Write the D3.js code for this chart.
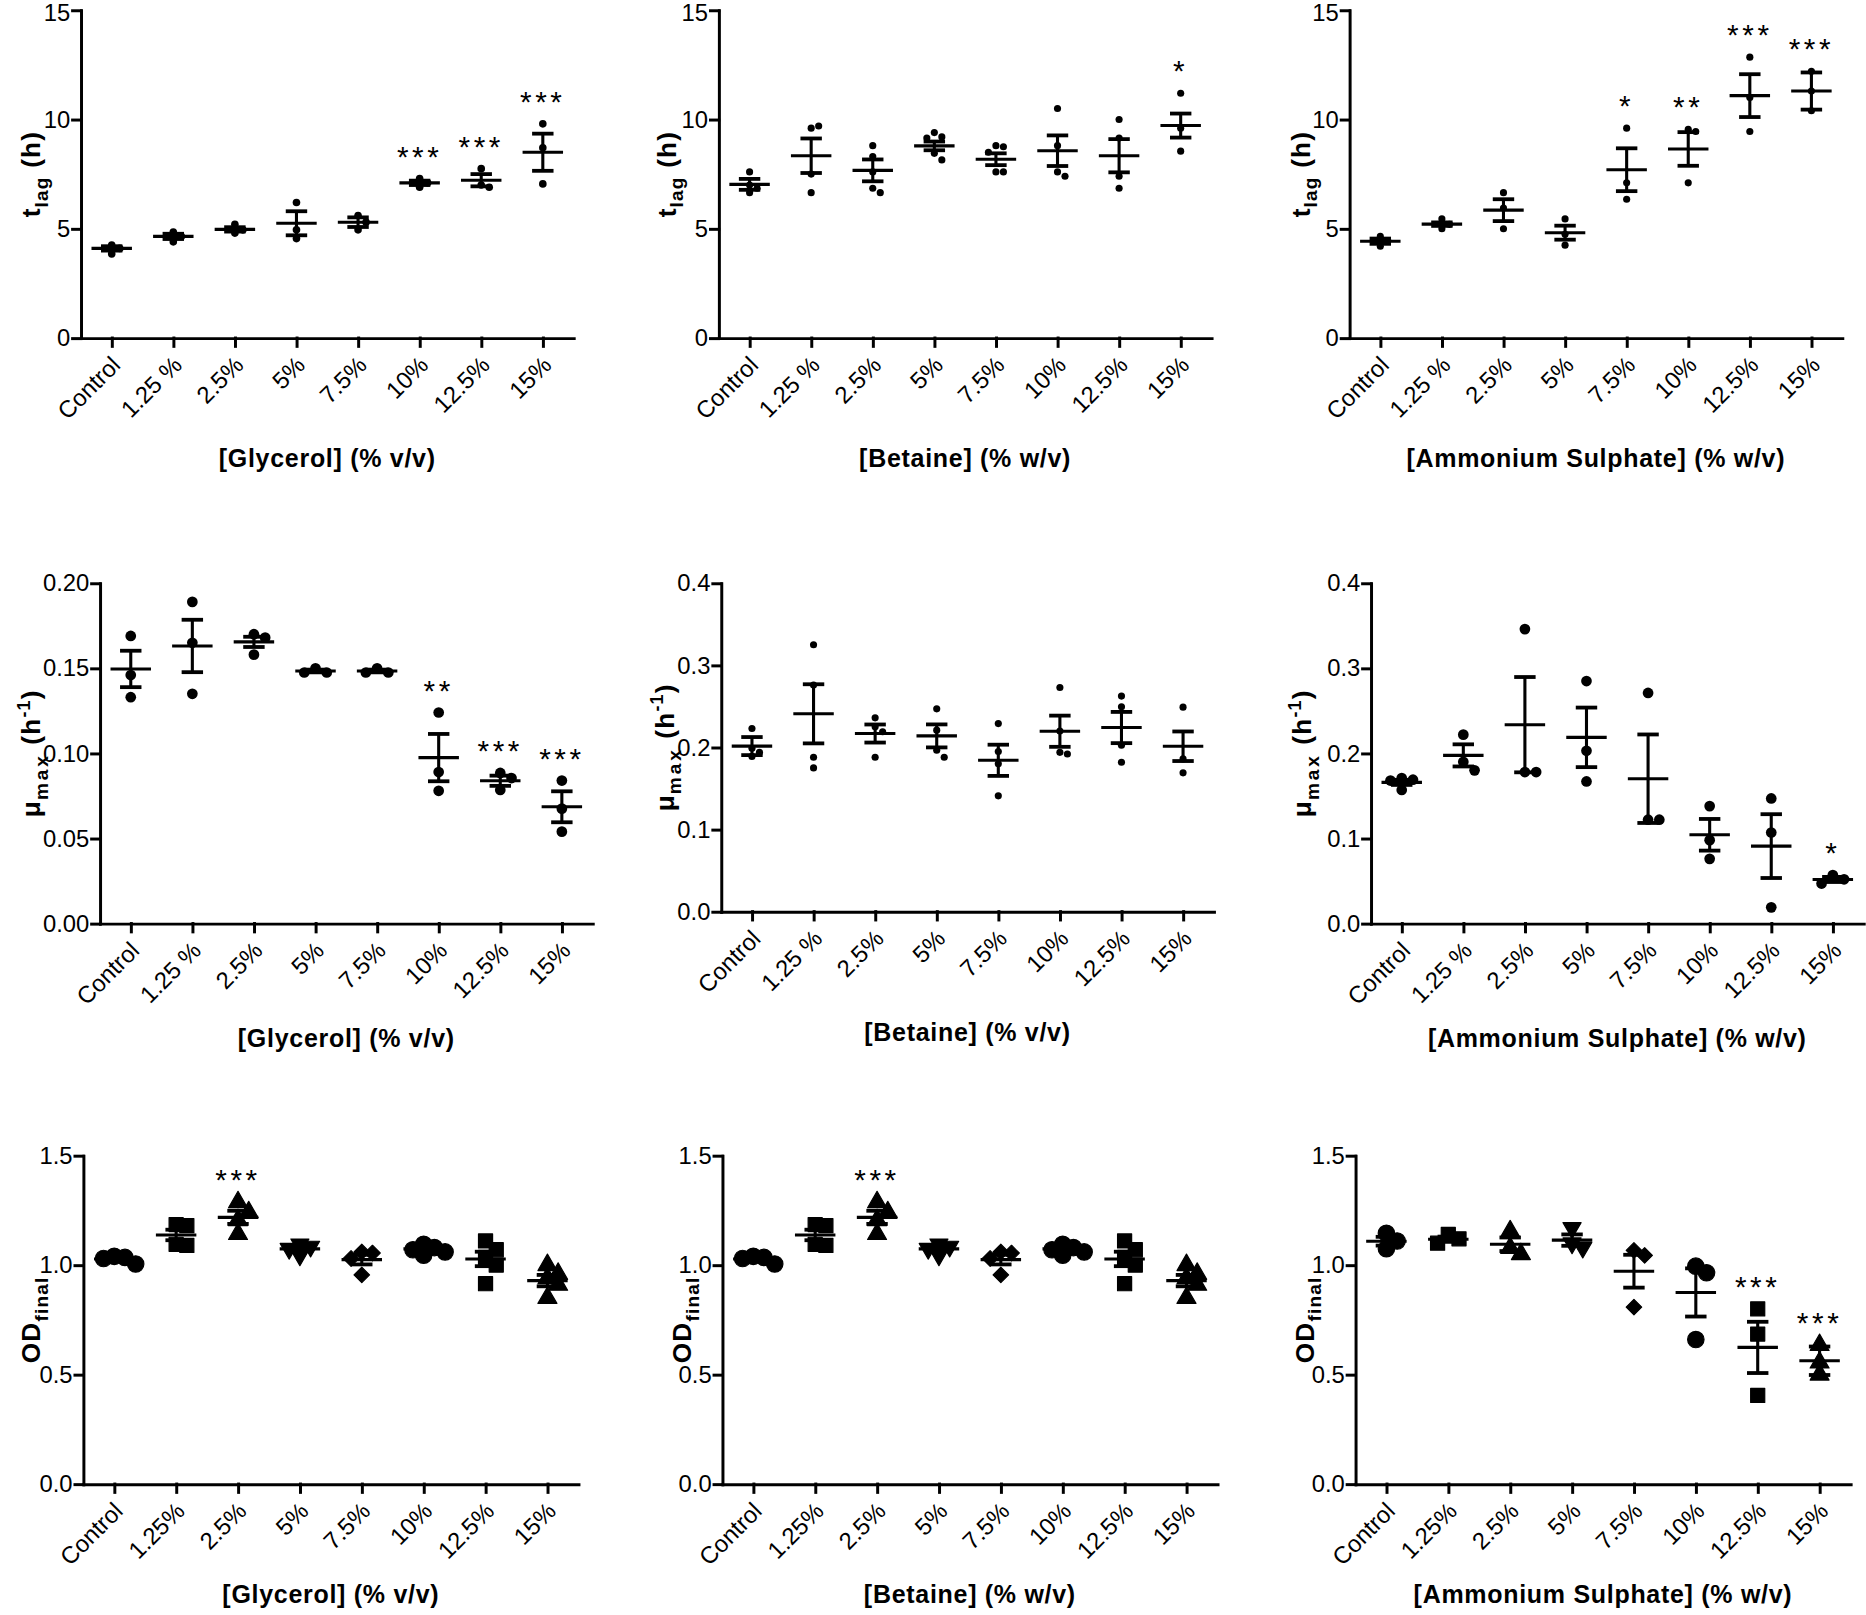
<!DOCTYPE html>
<html>
<head>
<meta charset="utf-8">
<script src="https://cdn.jsdelivr.net/npm/d3@7"></script>
<style>
body { margin: 0; background: #fff; }
svg { display: block; background: #fff; }
</style>
</head>
<body>
<div id="vis"></div>
<script>
var W = 1866, H = 1615; // page size, drawing done in a 1568x1357 box

// categories (x tick labels)
var catsSpaced = ["Control", "1.25 %", "2.5%", "5%", "7.5%", "10%", "12.5%", "15%"];
var catsOD = ["Control", "1.25%", "2.5%", "5%", "7.5%", "10%", "12.5%", "15%"];

// y tick values
var tlagTicks = [0, 5, 10, 15];
var muGlyTicks = [0, 0.05, 0.10, 0.15, 0.20];
var muTicks = [0, 0.1, 0.2, 0.3, 0.4];
var odTicks = [0, 0.5, 1.0, 1.5];

// axis titles
var xTitles = ["[Glycerol] (% v/v)", "[Betaine] (% w/v)", "[Ammonium Sulphate] (% w/v)",
               "[Glycerol] (% v/v)", "[Betaine] (% v/v)", "[Ammonium Sulphate] (% w/v)",
               "[Glycerol] (% v/v)", "[Betaine] (% w/v)", "[Ammonium Sulphate] (% w/v)"];

// t lag, glycerol
var tlagGlyPoints = [[4.25, 4.1, 3.85], [4.85, 4.65, 4.4], [5.2, 4.95, 4.8], [6.2, 4.95, 4.55],
                     [5.6, 5.3, 4.95], [7.3, 7.1, 6.9], [7.75, 7.0, 6.9], [9.8, 8.7, 7.05]];
var tlagGlyMean = [4.1, 4.65, 4.97, 5.25, 5.3, 7.1, 7.22, 8.5];
var tlagGlySem = [0.1, 0.12, 0.1, 0.55, 0.22, 0.1, 0.28, 0.85];
var tlagGlyStars = ["", "", "", "", "", "***", "***", "***"];

// t lag, betaine
var tlagBetPoints = [[7.6, 7.0, 6.85, 6.65], [9.6, 9.7, 7.5, 6.65], [8.8, 8.3, 7.6, 6.85, 6.65],
                     [9.4, 9.2, 9.15, 8.45, 8.15], [8.8, 8.75, 8.5, 7.6, 7.6], [10.5, 8.8, 7.6, 7.4],
                     [10.0, 9.15, 7.4, 6.85], [11.2, 9.6, 8.55]];
var tlagBetMean = [7.03, 8.34, 7.67, 8.79, 8.18, 8.57, 8.34, 9.72];
var tlagBetSem = [0.25, 0.79, 0.5, 0.2, 0.27, 0.7, 0.76, 0.55];
var tlagBetStars = ["", "", "", "", "", "", "", "*"];

// t lag, ammonium sulphate
var tlagAmmPoints = [[4.65, 4.45, 4.2], [5.45, 5.2, 5.0], [6.65, 5.95, 5.0], [5.45, 4.75, 4.25],
                     [9.6, 7.1, 6.35], [9.55, 9.45, 7.1], [12.85, 11.0, 9.45], [12.2, 11.3, 10.4]];
var tlagAmmMean = [4.43, 5.21, 5.85, 4.82, 7.7, 8.65, 11.09, 11.3];
var tlagAmmSem = [0.12, 0.08, 0.5, 0.32, 0.98, 0.77, 0.98, 0.85];
var tlagAmmStars = ["", "", "", "", "*", "**", "***", "***"];

// mu max, glycerol
var muGlyPoints = [[0.169, 0.146, 0.133], [0.189, 0.165, 0.135], [0.170, 0.168, 0.158], [0.150, 0.1475, 0.1475],
                   [0.150, 0.1475, 0.1475], [0.124, 0.089, 0.078], [0.0885, 0.0855, 0.0785], [0.084, 0.0675, 0.054]];
var muGlyMean = [0.1496, 0.1631, 0.1655, 0.1484, 0.1484, 0.0975, 0.0839, 0.0686];
var muGlySem = [0.0107, 0.0154, 0.003, 0.0008, 0.0008, 0.0139, 0.003, 0.0091];
var muGlyStars = ["", "", "", "", "", "**", "***", "***"];

// mu max, betaine
var muBetPoints = [[0.223, 0.199, 0.194, 0.189], [0.325, 0.276, 0.188, 0.175], [0.236, 0.225, 0.219, 0.188],
                   [0.247, 0.221, 0.1965, 0.188], [0.229, 0.195, 0.18, 0.141], [0.273, 0.22, 0.194, 0.192],
                   [0.2625, 0.2494, 0.2026, 0.1819], [0.249, 0.186, 0.169]];
var muBetMean = [0.2016, 0.2409, 0.2169, 0.214, 0.1843, 0.2197, 0.2242, 0.2014];
var muBetSem = [0.011, 0.036, 0.011, 0.014, 0.019, 0.019, 0.019, 0.018];
var muBetStars = ["", "", "", "", "", "", "", ""];

// mu max, ammonium sulphate
var muAmmPoints = [[0.171, 0.169, 0.168, 0.157], [0.222, 0.19, 0.18], [0.346, 0.178, 0.178], [0.285, 0.203, 0.167],
                   [0.271, 0.122, 0.122], [0.138, 0.098, 0.076], [0.147, 0.107, 0.019], [0.057, 0.052, 0.047]];
var muAmmMean = [0.1659, 0.1976, 0.2337, 0.2188, 0.1702, 0.1043, 0.091, 0.0518];
var muAmmSem = [0.003, 0.013, 0.056, 0.035, 0.052, 0.0186, 0.0375, 0.003];
var muAmmStars = ["", "", "", "", "", "", "", "*"];

// OD final, glycerol
var odGlyPoints = [[1.04, 1.035, 1.03, 1.005], [1.185, 1.18, 1.095, 1.09], [1.287, 1.241, 1.205, 1.142],
                   [1.095, 1.085, 1.075, 1.045], [1.06, 1.055, 1.03, 0.955], [1.095, 1.08, 1.07, 1.06, 1.045],
                   [1.11, 1.07, 1.035, 1.0, 0.915], [1.0, 0.96, 0.94, 0.91, 0.85]];
var odGlyMean = [1.028, 1.1375, 1.218, 1.074, 1.025, 1.074, 1.028, 0.929];
var odGlySem = [0.008, 0.024, 0.03, 0.011, 0.022, 0.01, 0.033, 0.026];
var odGlyStars = ["", "", "***", "", "", "", "", ""];

// OD final, betaine (the figure shows the same values as glycerol)
var odBetPoints = [[1.04, 1.035, 1.03, 1.005], [1.185, 1.18, 1.095, 1.09], [1.287, 1.241, 1.205, 1.142],
                   [1.095, 1.085, 1.075, 1.045], [1.06, 1.055, 1.03, 0.955], [1.095, 1.08, 1.07, 1.06, 1.045],
                   [1.11, 1.07, 1.035, 1.0, 0.915], [1.0, 0.96, 0.94, 0.91, 0.85]];
var odBetMean = [1.028, 1.1375, 1.218, 1.074, 1.025, 1.074, 1.028, 0.929];
var odBetSem = [0.008, 0.024, 0.03, 0.011, 0.022, 0.01, 0.033, 0.026];
var odBetStars = ["", "", "***", "", "", "", "", ""];

// OD final, ammonium sulphate
var odAmmPoints = [[1.145, 1.11, 1.075], [1.14, 1.12, 1.1], [1.154, 1.078, 1.05], [1.17, 1.1, 1.08],
                   [1.067, 1.044, 0.808], [0.995, 0.965, 0.66], [0.8, 0.685, 0.405], [0.635, 0.555, 0.5]];
var odAmmMean = [1.109, 1.118, 1.095, 1.114, 0.972, 0.875, 0.624, 0.563];
var odAmmSem = [0.02, 0.012, 0.031, 0.026, 0.075, 0.11, 0.117, 0.065];
var odAmmStars = ["", "", "", "", "", "", "***", "***"];

// marker shapes of the OD panels, one per category
var odShapes = ["circle", "square", "triangle", "triangleDown", "diamond", "circle", "square", "triangle"];

var FONT = "'Liberation Sans', Arial, Helvetica, sans-serif";

var svg = d3.select("#vis").append("svg")
    .attr("width", W)
    .attr("height", H)
    .attr("viewBox", "0 0 1568 1357")
    .style("font-family", FONT);

//panel settings: where each one sits and what it shows
var panels = [
  {cats: catsSpaced, pts: tlagGlyPoints, mean: tlagGlyMean, sem: tlagGlySem, stars: tlagGlyStars, ticks: tlagTicks, fmt: "d",
   label: "tlag", title: xTitles[0], ax: 68, len: 414, yTop: 8.5, y0: 284, r: 3.2, labelX: 26, titleY: 392},
  {cats: catsSpaced, pts: tlagBetPoints, mean: tlagBetMean, sem: tlagBetSem, stars: tlagBetStars, ticks: tlagTicks, fmt: "d",
   label: "tlag", title: xTitles[1], ax: 604, len: 414, yTop: 8.5, y0: 284, r: 3, labelX: 560, titleY: 392},
  {cats: catsSpaced, pts: tlagAmmPoints, mean: tlagAmmMean, sem: tlagAmmSem, stars: tlagAmmStars, ticks: tlagTicks, fmt: "d",
   label: "tlag", title: xTitles[2], ax: 1134, len: 414, yTop: 8.5, y0: 284, r: 3, labelX: 1093, titleY: 392},
  {cats: catsSpaced, pts: muGlyPoints, mean: muGlyMean, sem: muGlySem, stars: muGlyStars, ticks: muGlyTicks, fmt: ".2f",
   label: "mu", title: xTitles[3], ax: 84, len: 414, yTop: 490, y0: 776, r: 4.5, labelX: 26, titleY: 880},
  {cats: catsSpaced, pts: muBetPoints, mean: muBetMean, sem: muBetSem, stars: muBetStars, ticks: muTicks, fmt: ".1f",
   label: "mu", title: xTitles[4], ax: 606, len: 414, yTop: 490, y0: 766, r: 3, labelX: 558, titleY: 875},
  {cats: catsSpaced, pts: muAmmPoints, mean: muAmmMean, sem: muAmmSem, stars: muAmmStars, ticks: muTicks, fmt: ".1f",
   label: "mu", title: xTitles[5], ax: 1152, len: 414, yTop: 490, y0: 776, r: 4.5, labelX: 1094, titleY: 880},
  {cats: catsOD, pts: odGlyPoints, mean: odGlyMean, sem: odGlySem, stars: odGlyStars, ticks: odTicks, fmt: ".1f",
   label: "od", title: xTitles[6], ax: 70, len: 416, yTop: 971, y0: 1247, r: 5.5, gap: 9, labelX: 26, titleY: 1347, shapes: odShapes},
  {cats: catsOD, pts: odBetPoints, mean: odBetMean, sem: odBetSem, stars: odBetStars, ticks: odTicks, fmt: ".1f",
   label: "od", title: xTitles[7], ax: 607, len: 416, yTop: 971, y0: 1247, r: 5.5, gap: 9, labelX: 573, titleY: 1347, shapes: odShapes},
  {cats: catsOD, pts: odAmmPoints, mean: odAmmMean, sem: odAmmSem, stars: odAmmStars, ticks: odTicks, fmt: ".1f",
   label: "od", title: xTitles[8], ax: 1139, len: 416, yTop: 971, y0: 1247, r: 5.5, gap: 9, labelX: 1096, titleY: 1347, shapes: odShapes}
];

//spreads overlapping points sideways, like a scatter dot plot
function spread(vals, y, gap) {
  var placed = [];
  return vals.map(function(v){
    var py = y(v), dx = 0;
    for (var i = 0; i < 20; i++) {
      var c = i === 0 ? 0 : (i % 2 ? 1 : -1) * Math.ceil(i / 2) * gap;
      var ok = placed.every(function(p){ return Math.hypot(p.dx - c, p.py - py) >= gap * 0.95; });
      if (ok) { dx = c; break; }
    }
    placed.push({dx: dx, py: py});
    return {v: v, dx: dx};
  });
}

function symbolPath(shape) {
  var type = {circle: d3.symbolCircle, square: d3.symbolSquare, triangle: d3.symbolTriangle,
              triangleDown: d3.symbolTriangle, diamond: d3.symbolSquare}[shape];
  var size = {circle: 150, square: 140, triangle: 110, triangleDown: 100, diamond: 85}[shape];
  return d3.symbol().type(type).size(size)();
}

function yLabel(g, kind, x, cy) {
  var t = g.append("text")
      .attr("transform", "translate(" + (x + 8) + "," + cy + ") rotate(-90)")
      .attr("text-anchor", "middle")
      .attr("font-weight", "bold")
      .attr("font-size", 22)
      .attr("letter-spacing", 1)
      .attr("fill", "#000");
  if (kind === "tlag") {
    t.append("tspan").text("t");
    t.append("tspan").attr("font-size", 16).attr("dy", 6).text("lag");
    t.append("tspan").attr("dy", -6).text(" (h)");
  } else if (kind === "mu") {
    t.append("tspan").text("\u03bc");
    t.append("tspan").attr("font-size", 16).attr("dy", 6).attr("letter-spacing", 2.5).text("max");
    t.append("tspan").attr("dy", -6).text(" (h");
    t.append("tspan").attr("font-size", 15).attr("dy", -9).text("-1");
    t.append("tspan").attr("dy", 9).text(")");
  } else {
    t.append("tspan").text("OD");
    t.append("tspan").attr("font-size", 16).attr("dy", 6).text("final");
  }
}

function drawPanel(p) {
  var g = svg.append("g");

  var x = d3.scalePoint()
            .domain(p.cats)
            .range([p.ax, p.ax + p.len])
            .padding(0.5);

  var y = d3.scaleLinear()
            .domain([p.ticks[0], p.ticks[p.ticks.length - 1]])
            .range([p.y0, p.yTop]);

  var yAx = g.append("g")
      .attr("transform", "translate(" + p.ax + ",0)")
      .call(d3.axisLeft(y).tickValues(p.ticks).tickFormat(d3.format(p.fmt)).tickSize(7).tickSizeOuter(0).tickPadding(2));

  var xAx = g.append("g")
      .attr("transform", "translate(0," + p.y0 + ")")
      .call(d3.axisBottom(x).tickSize(7).tickSizeOuter(0));

  g.selectAll(".domain, .tick line")
      .attr("stroke", "#000")
      .attr("stroke-width", 2.5)
      .attr("stroke-linecap", "square");

  yAx.attr("font-family", FONT).attr("font-size", 20);
  yAx.selectAll("text").attr("fill", "#000");
  //keep the top label of the first row inside the page
  yAx.selectAll(".tick text")
      .filter(function(d){ return y(d) < 12; })
      .attr("dy", "0.42em");

  xAx.attr("font-family", FONT).attr("font-size", 20);
  xAx.selectAll(".tick text")
      .attr("fill", "#000")
      .attr("x", 0)
      .attr("y", 0)
      .attr("dy", "0.35em")
      .attr("text-anchor", "end")
      .attr("transform", "translate(3,19) rotate(-45)");

  yLabel(g, p.label, p.labelX, (p.y0 + p.yTop) / 2);

  g.append("text")
      .attr("x", p.ax + p.len / 2)
      .attr("y", p.titleY)
      .attr("text-anchor", "middle")
      .attr("font-weight", "bold")
      .attr("font-size", 21)
      .attr("letter-spacing", 0.6)
      .attr("fill", "#000")
      .text(p.title);

  p.cats.forEach(function(c, i){
    var cx = x(c);
    var pts = spread(p.pts[i], y, p.gap || p.r * 2.1);

    if (p.shapes) {
      var shape = p.shapes[i];
      g.selectAll(null)
          .data(pts)
          .enter()
          .append("path")
          .attr("d", symbolPath(shape))
          .attr("transform", function(d){
              var rot = shape === "triangleDown" ? " rotate(180)" : (shape === "diamond" ? " rotate(45)" : "");
              return "translate(" + (cx + d.dx) + "," + y(d.v) + ")" + rot;
          })
          .attr("fill", "#000")
          .attr("stroke", "#000")
          .attr("stroke-width", 1)
          .attr("stroke-linejoin", "round");
    } else {
      g.selectAll(null)
          .data(pts)
          .enter()
          .append("circle")
          .attr("cx", function(d){ return cx + d.dx; })
          .attr("cy", function(d){ return y(d.v); })
          .attr("r", p.r)
          .attr("fill", "#000");
    }

    var m = p.mean[i], s = p.sem[i];
    var lines = [
      [cx, y(m + s), cx, y(m - s)],
      [cx - 9, y(m + s), cx + 9, y(m + s)],
      [cx - 9, y(m - s), cx + 9, y(m - s)],
      [cx - 17, y(m), cx + 17, y(m)]
    ];
    g.selectAll(null)
        .data(lines)
        .enter()
        .append("line")
        .attr("x1", function(d){ return d[0]; })
        .attr("y1", function(d){ return d[1]; })
        .attr("x2", function(d){ return d[2]; })
        .attr("y2", function(d){ return d[3]; })
        .attr("stroke", "#000")
        .attr("stroke-width", function(d, k){ return k === 0 || k === 3 ? 2.6 : 3.2; });

    if (p.stars[i]) {
      var top = Math.min(y(d3.max(p.pts[i])), y(m + s));
      g.append("text")
          .attr("x", cx)
          .attr("y", top - 24 + 14)
          .attr("text-anchor", "middle")
          .attr("font-size", 25)
          .attr("letter-spacing", 3)
          .attr("fill", "#000")
          .text(p.stars[i]);
    }
  });
}

panels.forEach(drawPanel);
</script>
</body>
</html>
